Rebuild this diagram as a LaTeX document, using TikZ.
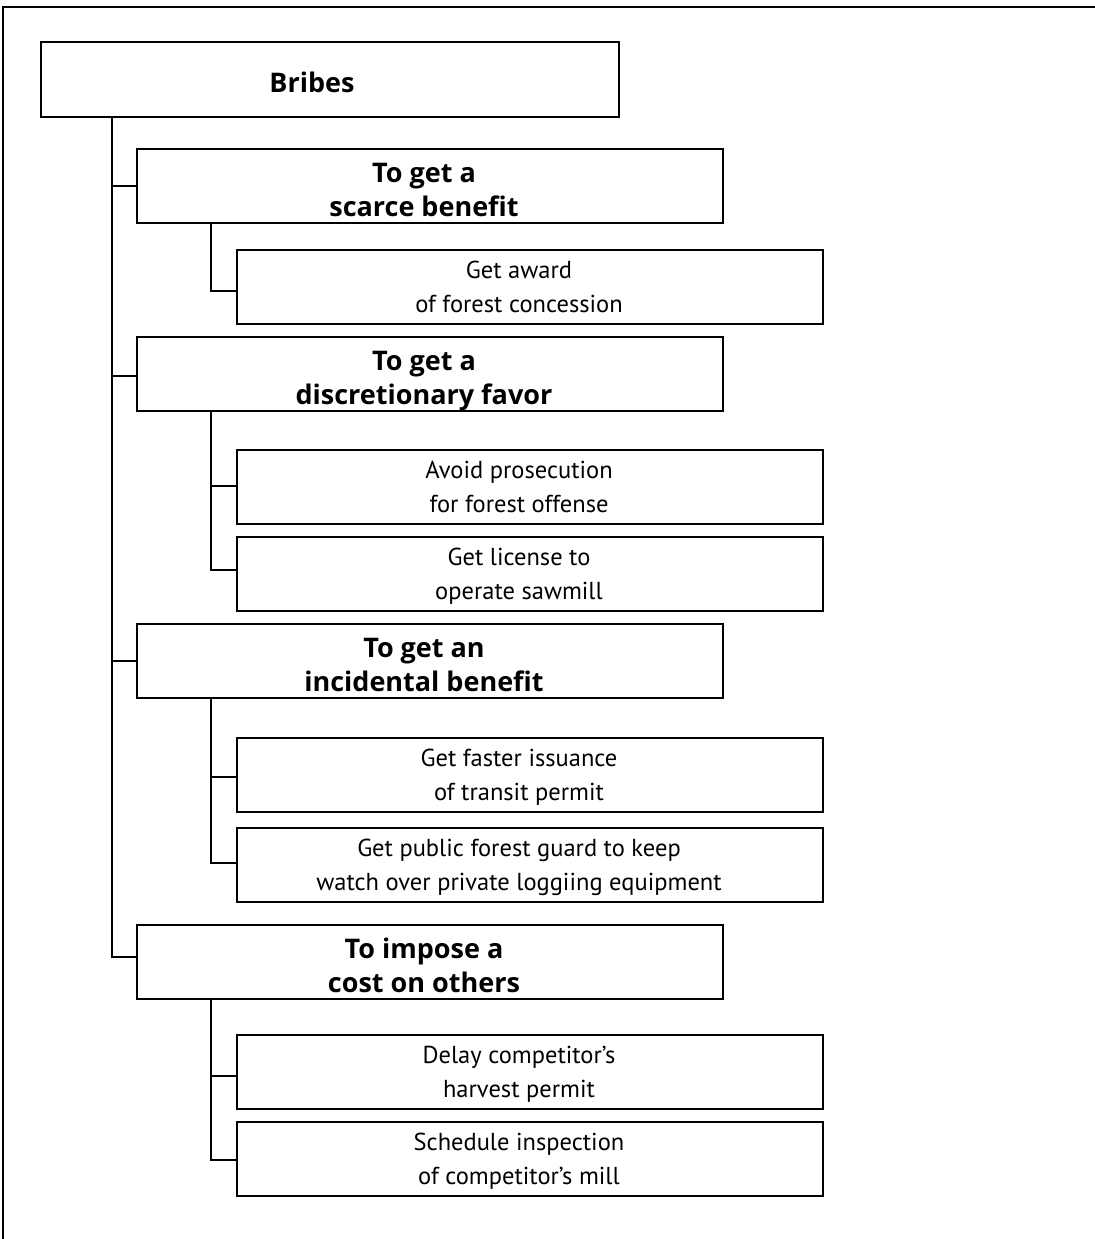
\documentclass[tikz,border=0pt]{standalone}
\usepackage{fontspec}
\setmainfont{PT Sans}
\newfontfamily\headfont{Open Sans}
\newcommand{\tlines}[3]{\raisebox{#3}[\height][\depth]{\begin{tabular}{@{}c@{}}#1\end{tabular}}\rule{#2}{0pt}}
\usetikzlibrary{positioning}

\begin{document}
\begin{tikzpicture}[x=1bp,y=-1bp,
  box/.style={draw,line width=2bp,inner sep=0pt,
    font=\fontsize{24.5bp}{34bp}\selectfont},
  topbox/.style={box,minimum width=578bp,minimum height=75bp,
    font=\headfont\fontsize{27bp}{34bp}\selectfont\bfseries},
  catbox/.style={box,minimum width=585bp,minimum height=74bp,
    font=\headfont\fontsize{27bp}{34bp}\selectfont\bfseries},
  itembox/.style={box,minimum width=586bp,minimum height=74bp},
  link/.style={line width=2bp}]
\useasboundingbox (0,0) rectangle (1095,1239);

% frame
\draw[line width=2.5bp] (3,1239) -- (3,7) -- (1095,7);

% Our Blocks
\node[topbox] (bribes) at (330,79.5) {\tlines{Bribes}{36bp}{-6bp}};

\node[catbox] (scarce) at (430,186) {\tlines{To get a\\scarce benefit}{12bp}{-7bp}};
\node[itembox] (award) at (530,287) {\tlines{Get award\\of forest concession}{22bp}{-2bp}};

\node[catbox] (favor) at (430,373.5) {\tlines{To get a\\discretionary favor}{12bp}{-7bp}};
\node[itembox] (avoid) at (530,487) {\tlines{Avoid prosecution\\for forest offense}{22bp}{-2bp}};
\node[itembox] (license) at (530,574) {\tlines{Get license to\\operate sawmill}{22bp}{-2bp}};

\node[catbox] (incid) at (430,661) {\tlines{To get an\\incidental benefit}{12bp}{-7bp}};
\node[itembox] (faster) at (530,775) {\tlines{Get faster issuance\\of transit permit}{22bp}{-2bp}};
\node[itembox] (guard) at (530,865) {\tlines{Get public forest guard to keep\\watch over private loggiing equipment}{22bp}{-2bp}};

\node[catbox] (impose) at (430,962) {\tlines{To impose a\\cost on others}{12bp}{-7bp}};
\node[itembox] (delay) at (530,1072) {\tlines{Delay competitor's\\harvest permit}{22bp}{-2bp}};
\node[itembox] (inspect) at (530,1159) {\tlines{Schedule inspection\\of competitor's mill}{22bp}{-2bp}};

% tree lines
\foreach \c/\d in {scarce/0,favor/-2.5,incid/0,impose/5}
  \draw[link] ([xshift=72bp]bribes.south west) |- ([yshift=\d bp]\c.west);
\foreach \p/\i/\d in {scarce/award/-4,favor/avoid/1,favor/license/4.5,
    incid/faster/-2,incid/guard/2,impose/delay/-4,impose/inspect/-1}
  \draw[link] ([xshift=74.5bp]\p.south west) |- ([yshift=\d bp]\i.west);

\end{tikzpicture}
\end{document}
